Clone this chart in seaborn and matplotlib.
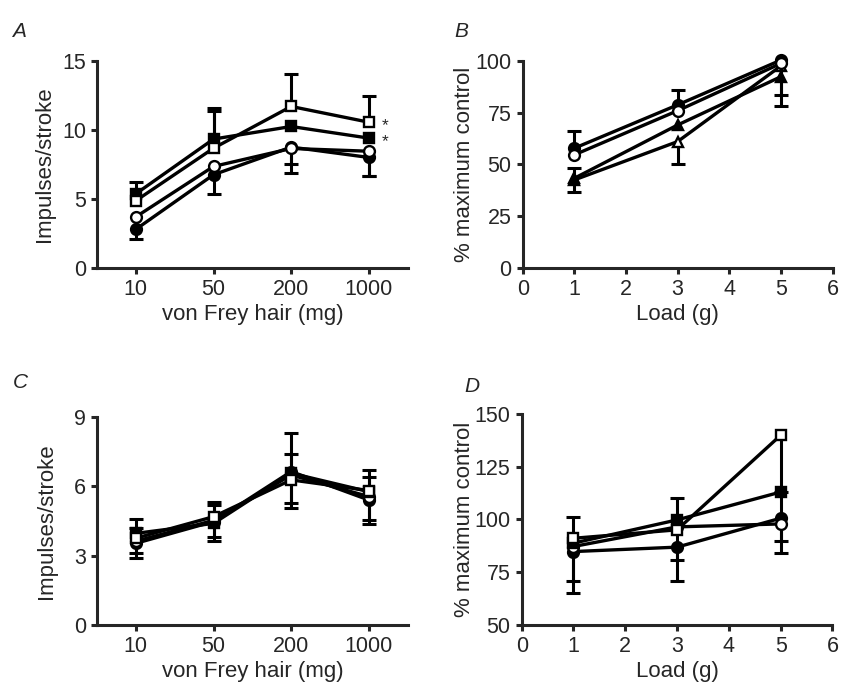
import numpy as np
import seaborn as sns
import matplotlib
matplotlib.use("Agg")
import matplotlib.pyplot as plt

# ---- data ----
hair_labels = ["10", "50", "200", "1000"]
load_g = [1, 3, 5]

# panel A: impulses/stroke (signed error: + drawn up, - drawn down)
a_filled_circle = [2.8, 6.75, 8.75, 8.0]
a_filled_circle_err = [-0.7, -1.4, -1.9, -1.35]
a_open_circle = [3.7, 7.35, 8.65, 8.45]
a_open_circle_err = [0, 0, -1.1, -1.8]
a_filled_square = [5.37, 9.33, 10.24, 9.40]
a_filled_square_err = [0.82, 2.24, 0, 0]
a_open_square = [4.87, 8.67, 11.69, 10.55]
a_open_square_err = [0, 2.66, 2.33, 1.9]

# panel B: % maximum control
b_filled_circle = [57.8, 78.7, 100.3]
b_filled_circle_err = [8.5, 7.0, 0]
b_open_circle = [54.6, 75.9, 98.7]
b_open_circle_err = [0, 0, 0]
b_filled_triangle = [43.3, 69.0, 92.3]
b_filled_triangle_err = [5.0, 0, -8.8]
b_open_triangle = [42.5, 61.0, 97.5]
b_open_triangle_err = [-6.0, -11.0, -19.2]

# panel C: impulses/stroke
c_filled_circle = [3.53, 4.47, 6.63, 5.40]
c_filled_circle_err = [-0.65, -0.82, -1.59, -1.03]
c_open_circle = [3.62, 4.52, 6.48, 5.55]
c_open_circle_err = [-0.52, -0.7, -1.19, -1.01]
c_filled_square = [3.96, 4.39, 6.56, 5.76]
c_filled_square_err = [0.6, 0.8, 0.82, 0.65]
c_open_square = [3.75, 4.68, 6.27, 5.81]
c_open_square_err = [0.43, 0.65, 2.02, 0.89]

# panel D: % maximum control
d_filled_circle = [84.8, 86.9, 100.6]
d_filled_circle_err = [-19.5, -15.9, 0]
d_open_circle = [87.2, 96.5, 97.9]
d_open_circle_err = [-16.2, -15.6, -13.9]
d_filled_square = [88.8, 99.8, 113.0]
d_filled_square_err = [0, 10.3, -23.0]
d_open_square = [91.1, 95.1, 139.9]
d_open_square_err = [10.3, 0, -26.9]

sns.set_style("ticks")
plt.rcParams["font.family"] = ["Liberation Sans", "DejaVu Sans"]
plt.rcParams["axes.linewidth"] = 2.2


def draw_series(ax, x, y, err, marker, filled):
    x = np.asarray(x, dtype=float)
    y = np.asarray(y, dtype=float)
    err = np.asarray(err, dtype=float)
    # one-sided error bars
    for side in (1, -1):
        m = (err * side) > 0
        if not m.any():
            continue
        e = np.abs(err[m])
        z = np.zeros_like(e)
        yerr = [z, e] if side > 0 else [e, z]
        _, caps, _ = ax.errorbar(x[m], y[m], yerr=yerr, fmt="none", ecolor="black",
                                 elinewidth=2.2, capsize=4.7, capthick=2.2,
                                 zorder=1.5, clip_on=False)
        # hide the cap sitting on the data point
        caps[0 if side > 0 else 1].set_visible(False)
    sns.lineplot(x=x, y=y, ax=ax, color="black", lw=2.4, marker=marker,
                 markersize=7.8 if marker == "o" else 7.4,
                 markerfacecolor="black" if filled else "white",
                 markeredgecolor="black", markeredgewidth=1.7,
                 errorbar=None, zorder=3, clip_on=False, legend=False)


def style_axes(ax, ylabel, xlabel, ylab_x):
    sns.despine(ax=ax)
    ax.tick_params(direction="out", length=4, width=2.2, labelsize=15.5, pad=4)
    ax.set_ylabel(ylabel, fontsize=16)
    ax.yaxis.set_label_coords(ylab_x, 0.5)
    ax.set_xlabel(xlabel, fontsize=16, labelpad=3)


fig = plt.figure(figsize=(8.42, 6.83), dpi=100)
axA = fig.add_axes([0.1152, 0.6076, 0.369, 0.3035])
axB = fig.add_axes([0.6208, 0.6076, 0.368, 0.3035])
axC = fig.add_axes([0.1152, 0.0849, 0.369, 0.305])
axD = fig.add_axes([0.6196, 0.0849, 0.369, 0.309])

xpos = np.arange(len(hair_labels))

# A
draw_series(axA, xpos, a_filled_circle, a_filled_circle_err, "o", True)
draw_series(axA, xpos, a_open_circle, a_open_circle_err, "o", False)
draw_series(axA, xpos, a_filled_square, a_filled_square_err, "s", True)
draw_series(axA, xpos, a_open_square, a_open_square_err, "s", False)
for v in (a_open_square[-1], a_filled_square[-1]):
    axA.annotate("*", xy=(xpos[-1], v), xytext=(9, -2.5), textcoords="offset points",
                 fontsize=12.5, ha="left", va="center")
axA.set_xlim(-0.5, 3.5)
axA.set_ylim(0, 15)
axA.set_yticks([0, 5, 10, 15])
axA.set_xticks(xpos)
axA.set_xticklabels(hair_labels)
style_axes(axA, "Impulses/stroke", "von Frey hair (mg)", -0.135)

# B
draw_series(axB, load_g, b_open_triangle, b_open_triangle_err, "^", False)
draw_series(axB, load_g, b_filled_triangle, b_filled_triangle_err, "^", True)
draw_series(axB, load_g, b_filled_circle, b_filled_circle_err, "o", True)
draw_series(axB, load_g, b_open_circle, b_open_circle_err, "o", False)
axB.set_xlim(0, 6)
axB.set_ylim(0, 100)
axB.set_xticks(range(0, 7))
axB.set_yticks([0, 25, 50, 75, 100])
style_axes(axB, "% maximum control", "Load (g)", -0.154)

# C
draw_series(axC, xpos, c_filled_circle, c_filled_circle_err, "o", True)
draw_series(axC, xpos, c_open_circle, c_open_circle_err, "o", False)
draw_series(axC, xpos, c_filled_square, c_filled_square_err, "s", True)
draw_series(axC, xpos, c_open_square, c_open_square_err, "s", False)
axC.set_xlim(-0.5, 3.5)
axC.set_ylim(0, 9)
axC.set_yticks([0, 3, 6, 9])
axC.set_xticks(xpos)
axC.set_xticklabels(hair_labels)
style_axes(axC, "Impulses/stroke", "von Frey hair (mg)", -0.128)

# D
draw_series(axD, load_g, d_filled_circle, d_filled_circle_err, "o", True)
draw_series(axD, load_g, d_open_circle, d_open_circle_err, "o", False)
draw_series(axD, load_g, d_filled_square, d_filled_square_err, "s", True)
draw_series(axD, load_g, d_open_square, d_open_square_err, "s", False)
axD.set_xlim(0, 6)
axD.set_ylim(50, 150)
axD.set_xticks(range(0, 7))
axD.set_yticks([50, 75, 100, 125, 150])
style_axes(axD, "% maximum control", "Load (g)", -0.151)

for lab, x, y in [("A", 0.014, 0.946), ("B", 0.540, 0.946), ("C", 0.015, 0.432), ("D", 0.552, 0.426)]:
    fig.text(x, y, lab, fontsize=15, style="italic", va="baseline", ha="left")

fig.savefig("out.png", dpi=100)
